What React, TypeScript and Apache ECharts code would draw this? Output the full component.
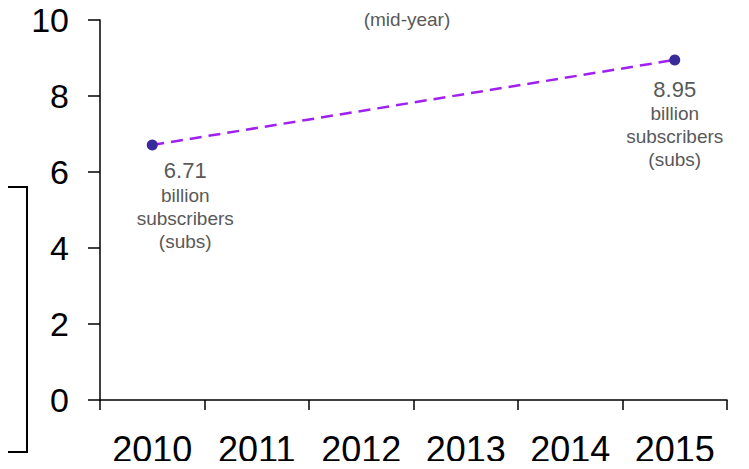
import React, { useEffect, useRef } from "react";
import * as echarts from "echarts";

const categories = ["2010", "2011", "2012", "2013", "2014", "2015"];
const subscribers: (number | null)[] = [6.71, null, null, null, null, 8.95];
const yTicks = { min: 0, max: 10, interval: 2 };
const unitLines = ["billion", "subscribers", "(subs)"];
const subtitle = "(mid-year)";

export default function App() {
  const ref = useRef<HTMLDivElement>(null);
  useEffect(() => {
    if (!ref.current) return;
    const chart = echarts.init(ref.current, undefined, { renderer: "svg" });
    const font = "'Liberation Sans', Arial, sans-serif";
    const labelFor = (v: number) =>
      `{v|${v.toFixed(2)}}\n{t|${unitLines[0]}}\n{t|${unitLines[1]}}\n{t|${unitLines[2]}}`;
    const rich = {
      v: { fontSize: 22, color: "#595959", fontFamily: font, lineHeight: 26 },
      t: { fontSize: 19, color: "#595959", fontFamily: font, lineHeight: 23 },
    };
    const seriesData = subscribers.map((v, i) => {
      if (v == null) return null;
      return {
        value: v,
        label: {
          show: true,
          position: "bottom",
          distance: i === 0 ? 7 : 11,
          offset: i === 0 ? [33, 0] : [0, 0],
          align: "center",
          formatter: labelFor(v),
          rich,
        },
      };
    });
    const boxStyle = { stroke: "#000", lineWidth: 2 };
    chart.setOption({
      animation: false,
      textStyle: { fontFamily: font },
      grid: { left: 100, right: 22, top: 20, bottom: 69, containLabel: false },
      graphic: [
        { type: "line", shape: { x1: 0, y1: 187, x2: 27, y2: 187 }, style: boxStyle },
        { type: "line", shape: { x1: 27, y1: 186, x2: 27, y2: 453 }, style: boxStyle },
        { type: "line", shape: { x1: 0, y1: 452, x2: 27, y2: 452 }, style: boxStyle },
        {
          type: "text",
          x: 407,
          y: 19,
          style: {
            text: subtitle,
            fontSize: 19,
            fill: "#595959",
            fontFamily: font,
            align: "center",
            verticalAlign: "middle",
          },
        },
      ],
      xAxis: {
        type: "category",
        data: categories,
        boundaryGap: true,
        axisLine: { show: true, lineStyle: { color: "#000", width: 1.5 } },
        axisTick: { show: true, length: 10, alignWithLabel: false, lineStyle: { color: "#000", width: 1.5 } },
        axisLabel: { color: "#000", fontSize: 36, margin: 31, fontFamily: font },
        splitLine: { show: false },
      },
      yAxis: {
        type: "value",
        min: yTicks.min,
        max: yTicks.max,
        interval: yTicks.interval,
        axisLine: { show: true, lineStyle: { color: "#000", width: 1.5 } },
        axisTick: { show: true, length: 12, inside: false, lineStyle: { color: "#000", width: 1.5 } },
        axisLabel: { color: "#000", fontSize: 34, margin: 31, fontFamily: font },
        splitLine: { show: false },
      },
      series: [
        {
          type: "line",
          data: seriesData,
          connectNulls: true,
          symbol: "circle",
          symbolSize: 11,
          itemStyle: { color: "#3a2b9c" },
          lineStyle: { color: "#a020f0", width: 2.5, type: [12, 7] },
        },
      ],
    });
    return () => chart.dispose();
  }, []);
  return <div ref={ref} style={{ width: 749, height: 469, margin: -8 }} />;
}
